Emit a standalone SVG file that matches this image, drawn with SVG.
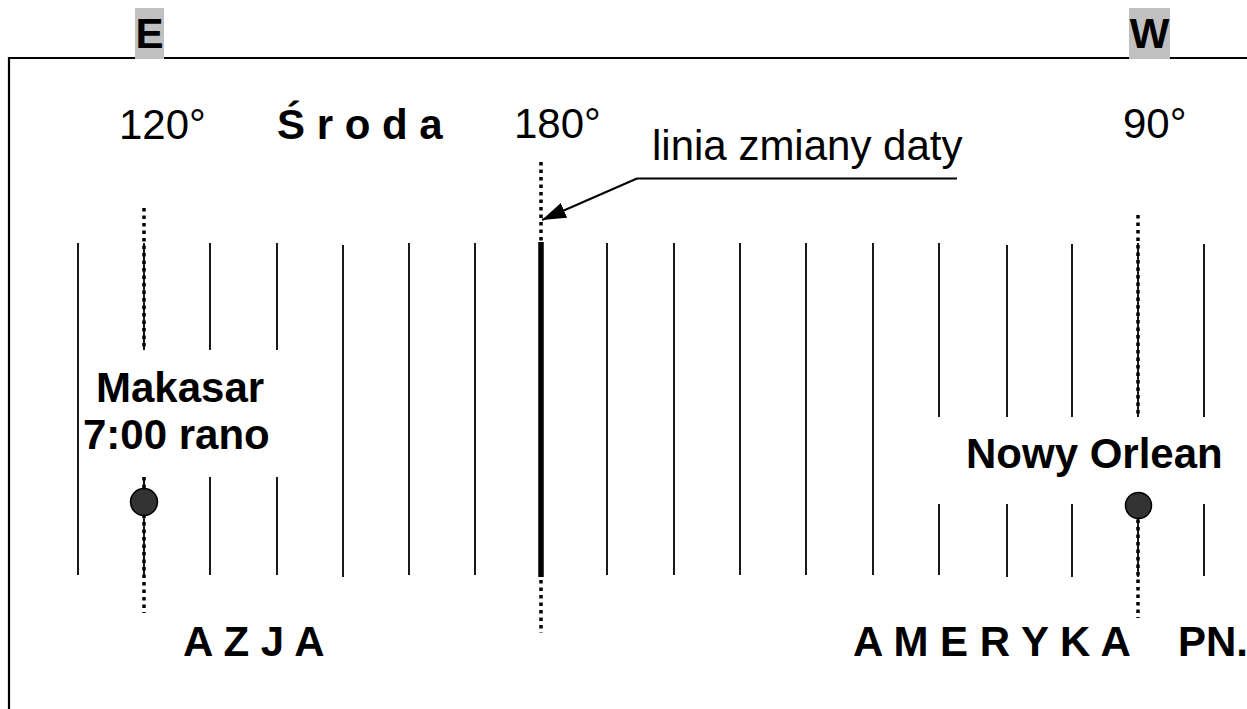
<svg xmlns="http://www.w3.org/2000/svg" width="1247" height="709" viewBox="0 0 1247 709">
<defs>
<style>
text{font-family:"Liberation Sans",Arial,sans-serif;font-size:42px;fill:#000}
.b{font-weight:bold}
.g{stroke:#000;stroke-width:1.8;fill:none}
.dot{stroke:#000;stroke-width:3.5;stroke-dasharray:3.5 4;fill:none}
.pin{fill:#333;stroke:#000;stroke-width:1.5}
.lab{fill:#c0c0c0}
</style>
<marker id="ah" markerWidth="26" markerHeight="18" refX="24" refY="8" orient="auto" markerUnits="userSpaceOnUse">
<path d="M0,0 L24,8 L0,16 Z" fill="#000"/>
</marker>
</defs>
<rect width="1247" height="709" fill="#fff"/>
<g id="frame">
<path d="M9,709 V58 H1247" stroke="#000" stroke-width="2.2" fill="none"/>
</g>
<g id="label-E"><rect class="lab" x="135" y="8" width="29" height="51"/><text class="b" x="149.5" y="48" text-anchor="middle">E</text></g>
<g id="label-W"><rect class="lab" x="1129" y="8" width="41" height="51"/><text class="b" x="1149.5" y="48" text-anchor="middle">W</text></g>
<g id="meridians">
<line class="g" x1="78" y1="243" x2="78" y2="575"/>
<line class="g" x1="144" y1="243" x2="144" y2="350"/><line class="g" x1="144" y1="477" x2="144" y2="575"/>
<line class="g" x1="210" y1="243" x2="210" y2="350"/><line class="g" x1="210" y1="477" x2="210" y2="575"/>
<line class="g" x1="277" y1="243" x2="277" y2="350"/><line class="g" x1="277" y1="477" x2="277" y2="575"/>
<line class="g" x1="343" y1="245" x2="343" y2="577"/>
<line class="g" x1="409" y1="243" x2="409" y2="575"/>
<line class="g" x1="475" y1="243" x2="475" y2="575"/>
<line class="g" x1="607" y1="243" x2="607" y2="575"/>
<line class="g" x1="674" y1="243" x2="674" y2="575"/>
<line class="g" x1="740" y1="243" x2="740" y2="575"/>
<line class="g" x1="806" y1="243" x2="806" y2="575"/>
<line class="g" x1="873" y1="243" x2="873" y2="575"/>
<line class="g" x1="939" y1="243" x2="939" y2="417"/><line class="g" x1="939" y1="504" x2="939" y2="575"/>
<line class="g" x1="1007" y1="245" x2="1007" y2="417"/><line class="g" x1="1007" y1="504" x2="1007" y2="577"/>
<line class="g" x1="1072" y1="244" x2="1072" y2="417"/><line class="g" x1="1072" y1="504" x2="1072" y2="577"/>
<line class="g" x1="1138" y1="243" x2="1138" y2="417"/><line class="g" x1="1138" y1="505" x2="1138" y2="577"/>
<line class="g" x1="1204" y1="244" x2="1204" y2="417"/><line class="g" x1="1204" y1="504" x2="1204" y2="576"/>
</g>
<g id="date-line">
<line class="dot" x1="541" y1="162" x2="541" y2="243"/>
<line x1="541" y1="242" x2="541" y2="577" stroke="#000" stroke-width="5.5"/>
<line class="dot" x1="541" y1="580" x2="541" y2="633"/>
</g>
<g id="meridian-120">
<line class="dot" x1="144" y1="208" x2="144" y2="350"/>
<line class="dot" x1="144" y1="477" x2="144" y2="613"/>
</g>
<g id="meridian-90">
<line class="dot" x1="1138" y1="215" x2="1138" y2="417"/>
<line class="dot" x1="1138" y1="512" x2="1138" y2="618"/>
</g>
<g id="makasar">
<circle class="pin" cx="144" cy="502" r="13.5"/>
<text class="b" x="96" y="402">Makasar</text>
<text class="b" x="83" y="449">7:00 rano</text>
</g>
<g id="nowy-orlean">
<circle class="pin" cx="1138.5" cy="505.5" r="13"/>
<text class="b" x="966" y="468">Nowy Orlean</text>
</g>
<g id="top-labels">
<text x="119" y="139">120°</text>
<text class="b" x="277" y="139">Ś r o d a</text>
<text x="514" y="138">180°</text>
<text x="1123" y="138">90°</text>
</g>
<g id="callout">
<text x="652" y="160">linia zmiany daty</text>
</g>
<g id="connectors">
<line x1="957" y1="178.5" x2="637" y2="178.5" stroke="#000" stroke-width="2"/>
<line x1="637" y1="178.5" x2="542" y2="220" stroke="#000" stroke-width="2" marker-end="url(#ah)"/>
</g>
<g id="continents">
<text class="b" x="183" y="656">A Z J A</text>
<text class="b" x="853" y="656">A M E R Y K A<tspan x="1178">PN.</tspan></text>
</g>
</svg>
